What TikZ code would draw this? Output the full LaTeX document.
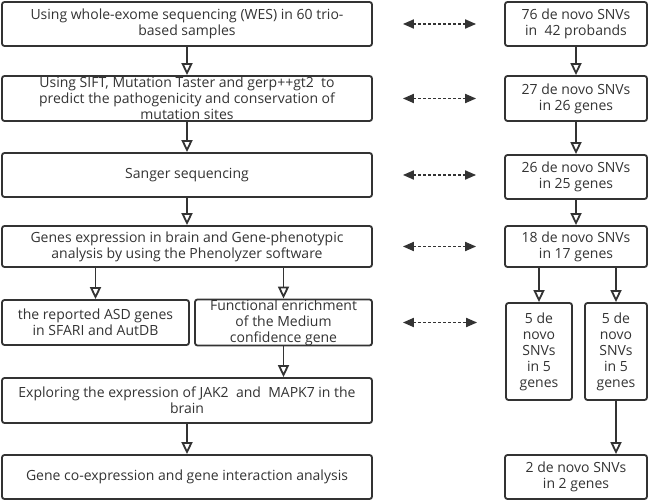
\documentclass[tikz,border=0pt]{standalone}
\usepackage{fontspec}
\setmainfont{Open Sans}
\usepackage{xcolor}
\usetikzlibrary{arrows.meta}
\definecolor{ink}{HTML}{333333}
\begin{document}
\begin{tikzpicture}[x=1pt,y=-1pt,
    box/.style={draw=ink, line width=1.8pt, rounded corners=2.5pt, inner sep=0pt, align=center, text=ink, font=\fontsize{14}{16}\selectfont},
    flow/.style={draw=ink, line width=1.8pt, -{Triangle[open, length=12pt, width=11pt]}},
    link/.style={draw=ink, line width=1.8pt, dash pattern=on 3pt off 2pt, {Triangle[length=11pt, width=9pt]}-{Triangle[length=11pt, width=9pt]}, shorten <=30pt, shorten >=28pt}]
    \useasboundingbox (0,0) rectangle (650,502);
    \node[box, minimum width=370pt, minimum height=44pt] (wes) at (187,24) {Using whole-exome sequencing (WES) in 60 trio-\\based samples};
    \node[box, minimum width=370pt, minimum height=45pt] (sift) at (187,98.5) {Using SIFT, Mutation Taster and gerp++gt2~ to\\predict the pathogenicity and conservation of\\mutation sites};
    \node[box, minimum width=370pt, minimum height=44pt] (sanger) at (187,175) {Sanger sequencing};
    \node[box, minimum width=370pt, minimum height=41pt] (pheno) at (187,246.5) {Genes expression in brain and Gene-phenotypic\\analysis by using the Phenolyzer software};
    \node[box, minimum width=187pt, minimum height=45pt] (sfari) at (95.5,322.5) {the reported ASD genes\\in SFARI and AutDB};
    \node[box, minimum width=177pt, minimum height=45pt] (enrich) at (283.5,322.5) {Functional enrichment\\of the Medium\\confidence gene};
    \node[box, minimum width=370pt, minimum height=45pt] (jak) at (187,400.5) {Exploring the expression of JAK2~~and~~MAPK7 in the\\brain};
    \node[box, minimum width=370pt, minimum height=44pt] (coexp) at (187,477) {Gene co-expression and gene interaction analysis};
    \node[box, minimum width=142pt, minimum height=44pt] (snv76) at (576,24) {76 de novo SNVs\\in~~42 probands};
    \node[box, minimum width=142pt, minimum height=45pt] (snv27) at (576,98.5) {27 de novo SNVs\\in 26 genes};
    \node[box, minimum width=142pt, minimum height=44pt] (snv26) at (576,177) {26 de novo SNVs\\in 25 genes};
    \node[box, minimum width=142pt, minimum height=41pt] (snv18) at (576,246.5) {18 de novo SNVs\\in 17 genes};
    \node[box, minimum width=66pt, minimum height=97pt] (snv5a) at (539,351.5) {5 de\\novo\\SNVs\\in 5\\genes};
    \node[box, minimum width=62pt, minimum height=97pt] (snv5b) at (616,351.5) {5 de\\novo\\SNVs\\in 5\\genes};
    \node[box, minimum width=142pt, minimum height=44pt] (snv2) at (576,477) {2 de novo SNVs\\in 2 genes};
    \draw[flow] (wes) -- (sift);
    \draw[flow] (sift) -- (sanger);
    \draw[flow] (sanger) -- (pheno);
    \draw[flow] (pheno.south -| sfari.north) -- (sfari);
    \draw[flow] (pheno.south -| enrich.north) -- (enrich);
    \draw[flow] (enrich.south) -- (jak.north -| enrich.south);
    \draw[flow] (jak) -- (coexp);
    \draw[flow] (snv76) -- (snv27);
    \draw[flow] (snv27) -- (snv26);
    \draw[flow] (snv26) -- (snv18);
    \draw[flow] (snv18.south -| snv5a.north) -- (snv5a);
    \draw[flow] (snv18.south -| snv5b.north) -- (snv5b);
    \draw[flow] (snv5b.south) -- (snv2.north -| snv5b.south);
    \draw[link] (wes.east) -- (snv76.west);
    \draw[link] (sift.east) -- (snv27.west);
    \draw[link] (sanger.east) -- (sanger.east -| snv26.west);
    \draw[link] (pheno.east) -- (snv18.west);
    \draw[link] (enrich.east) -- (enrich.east -| snv5a.west);
\end{tikzpicture}
\end{document}
